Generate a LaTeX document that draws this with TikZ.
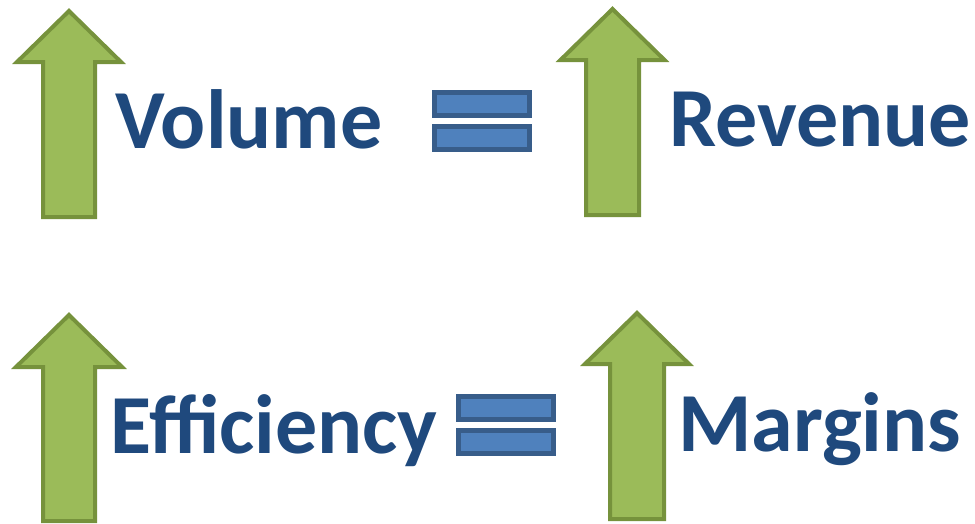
\documentclass[tikz,border=0pt]{standalone}
\usepackage{fontspec}
\setmainfont{Carlito}
\definecolor{arrowfill}{HTML}{9BBB59}
\definecolor{arrowline}{HTML}{76923C}
\definecolor{barfill}{HTML}{4F81BD}
\definecolor{barline}{HTML}{385D8A}
\definecolor{wordblue}{HTML}{1F497D}
\tikzset{
  uparrow/.style={fill=arrowfill, draw=arrowline, line width=4pt, miter limit=10},
  eqbar/.style={fill=barfill, draw=barline, line width=5pt},
  word/.style={text=wordblue, font=\fontsize{84}{84}\selectfont\bfseries, inner sep=0pt, anchor=base west}
}
% block up-arrow: centre x, tip y, head base y, half head width, half shaft width, bottom y
\newcommand{\UpArrow}[6]{%
  \draw[uparrow] (#1,#2) -- (#1+#4,#3) -- (#1+#5,#3) -- (#1+#5,#6)
    -- (#1-#5,#6) -- (#1-#5,#3) -- (#1-#4,#3) -- cycle;}
\begin{document}
\begin{tikzpicture}[x=1pt,y=-1pt]
  \useasboundingbox (0,0) rectangle (975,523);

  % top row: volume = revenue
  \UpArrow{69}{11}{62}{52}{26}{217}
  \node[word] (volume) at (115,148) {Volume};
  \draw[eqbar] (434.5,92.5) rectangle (529.5,115.5);
  \draw[eqbar] (434.5,126.5) rectangle (529.5,149.5);
  \UpArrow{612.5}{9}{60}{52}{26.5}{215}
  \node[word] (revenue) at (669,146) {Revenue};

  % bottom row: efficiency = margins
  \UpArrow{69}{315}{367}{53}{26}{521}
  \node[word] (efficiency) at (110,453) {Efficiency};
  \draw[eqbar] (458.5,396.5) rectangle (553.5,419.5);
  \draw[eqbar] (458.5,430.5) rectangle (553.5,453.5);
  \UpArrow{637}{313}{364}{52}{27}{519}
  \node[word] (margins) at (678,451) {Margins};
\end{tikzpicture}
\end{document}
